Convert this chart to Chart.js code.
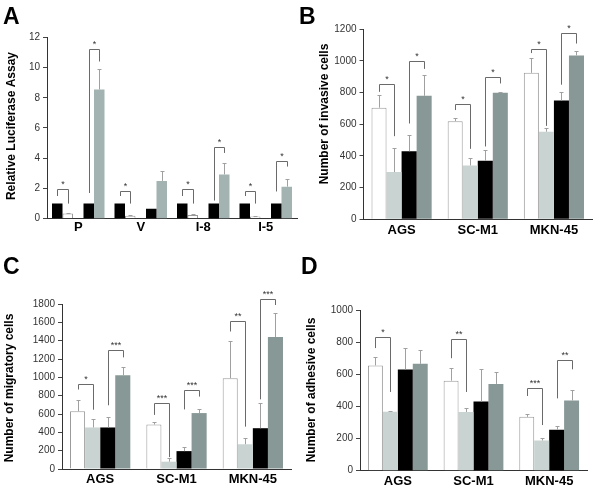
<!DOCTYPE html>
<html><head><meta charset="utf-8">
<script src="https://cdn.jsdelivr.net/npm/chart.js@4/dist/chart.umd.min.js"></script>
<style>
body{margin:0;background:#fff;}
#wrap{position:relative;width:600px;height:500px;overflow:hidden;background:#fff;}
canvas{position:absolute;}
.lab{position:absolute;font:bold 23px "Liberation Sans",Arial,sans-serif;color:#000;line-height:1;}
</style></head><body>
<div id="wrap">
<canvas id="cA" width="300" height="250" style="left:0;top:0"></canvas>
<canvas id="cB" width="300" height="250" style="left:300px;top:0"></canvas>
<canvas id="cC" width="300" height="250" style="left:0;top:250px"></canvas>
<canvas id="cD" width="300" height="250" style="left:300px;top:250px"></canvas>
<div class="lab" style="left:3px;top:5px">A</div>
<div class="lab" style="left:299px;top:5px">B</div>
<div class="lab" style="left:3px;top:255px">C</div>
<div class="lab" style="left:301px;top:255px">D</div>
</div>
<script>
// ---------- Panel A ----------
const catsA = ['P', 'V', 'I-8', 'I-5'];
const yTicksA = [0, 2, 4, 6, 8, 10, 12];
const aBlack1 = [1, 1, 1, 1];
const aWhite = [0.35, 0.2, 0.25, 0.15];
const aWhiteErr = [0.02, 0.07, 0.03, 0.05];
const aGap = [null, null, null, null];
const aBlack2 = [1, 0.65, 1, 1];
const aGray = [8.55, 2.5, 2.93, 2.12];
const aGrayErr = [1.35, 0.65, 0.73, 0.48];
// [category, fromBar, toBar, level, leftLegEnd, rightLegEnd, label]
const bracketsA = [
  [0, 0, 1, 1.94, 1.5, 1.0, '*'],
  [0, 3, 4, 11.2, 1.7, 10.4, '*'],
  [1, 0, 1, 1.85, 1.5, 1.0, '*'],
  [2, 0, 1, 1.94, 1.5, 1.0, '*'],
  [2, 3, 4, 4.72, 1.2, 4.35, '*'],
  [3, 0, 1, 1.85, 1.5, 1.0, '*'],
  [3, 3, 4, 3.8, 1.8, 3.45, '*']
];

// ---------- Cell lines (B, C, D) ----------
const cellLines = ['AGS', 'SC-M1', 'MKN-45'];

const yTicksB = [0, 200, 400, 600, 800, 1000, 1200];
const bWhite = [705, 620, 925];
const bWhiteErr = [78, 22, 95];
const bLight = [298, 340, 553];
const bLightErr = [150, 45, 22];
const bBlack = [430, 370, 750];
const bBlackErr = [101, 65, 55];
const bDark = [780, 800, 1035];
const bDarkErr = [130, 3, 25];
const bracketsB = [
  [0, 0, 1, 853, 805, 525, '*'],
  [0, 2, 3, 1000, 605, 950, '*'],
  [1, 0, 1, 730, 690, 445, '*'],
  [1, 2, 3, 900, 460, 858, '*'],
  [2, 0, 1, 1075, 1050, 590, '*'],
  [2, 2, 3, 1175, 850, 1110, '*']
];

const yTicksC = [0, 200, 400, 600, 800, 1000, 1200, 1400, 1600, 1800];
const cWhite = [630, 485, 990];
const cWhiteErr = [120, 25, 405];
const cLight = [453, 80, 270];
const cLightErr = [88, 35, 65];
const cBlack = [453, 195, 445];
const cBlackErr = [110, 50, 275];
const cDark = [1022, 610, 1440];
const cDarkErr = [90, 40, 260];
const bracketsC = [
  [0, 0, 1, 932, 867, 647, '*'],
  [0, 2, 3, 1298, 695, 1218, '***'],
  [1, 0, 1, 724, 590, 130, '***'],
  [1, 2, 3, 862, 650, 790, '***'],
  [2, 0, 1, 1615, 1500, 462, '**'],
  [2, 2, 3, 1855, 760, 1789, '***']
];

const yTicksD = [0, 200, 400, 600, 800, 1000];
const dWhite = [655, 560, 335];
const dWhiteErr = [55, 80, 20];
const dLight = [367, 365, 188];
const dLightErr = [3, 28, 17];
const dBlack = [630, 430, 255];
const dBlackErr = [135, 200, 25];
const dDark = [665, 540, 437];
const dDarkErr = [87, 75, 68];
const bracketsD = [
  [0, 0, 1, 834, 763, 490, '*'],
  [1, 0, 1, 817, 700, 490, '**'],
  [2, 0, 1, 512, 465, 284, '***'],
  [2, 2, 3, 689, 450, 631, '**']
];

const FONT = '"Liberation Sans", Arial, sans-serif';
Chart.defaults.font.family = FONT;
Chart.defaults.animation = false;

const annot = {
  id: 'annot',
  afterDatasetsDraw(chart, args, o) {
    const ctx = chart.ctx, ys = chart.scales.y;
    const yp = v => ys.getPixelForValue(v);
    ctx.save();
    ctx.lineWidth = 1;
    // error bars
    o.errors.forEach((errs, di) => {
      if (!errs) return;
      const meta = chart.getDatasetMeta(di);
      errs.forEach((e, i) => {
        const v = chart.data.datasets[di].data[i];
        if (v == null || !e) return;
        const x = Math.round(meta.data[i].x) + 0.5;
        const y0 = yp(v), y1 = Math.round(yp(v + e)) + 0.5;
        ctx.strokeStyle = '#a0a0a0';
        ctx.beginPath();
        ctx.moveTo(x, y0); ctx.lineTo(x, y1);
        ctx.moveTo(x - 2, y1); ctx.lineTo(x + 2, y1);
        ctx.stroke();
      });
    });
    // significance brackets
    ctx.font = '9px ' + FONT;
    ctx.fillStyle = '#333';
    ctx.textAlign = 'center';
    ctx.textBaseline = 'alphabetic';
    o.brackets.forEach(b => {
      const [ci, a, c, lvl, lb, rb, txt] = b;
      const xa = Math.round(chart.getDatasetMeta(a).data[ci].x) + 0.5;
      const xb = Math.round(chart.getDatasetMeta(c).data[ci].x) + 0.5;
      const yl = Math.round(yp(lvl)) + 0.5;
      ctx.strokeStyle = '#6a6a6a';
      ctx.beginPath();
      ctx.moveTo(xa, yp(lb)); ctx.lineTo(xa, yl); ctx.lineTo(xb, yl); ctx.lineTo(xb, yp(rb));
      ctx.stroke();
      ctx.fillText(txt, (xa + xb) / 2, yl - 3);
    });
    ctx.restore();
  },
  afterDraw(chart, args, o) {
    const ctx = chart.ctx;
    ctx.save();
    ctx.translate(o.titleX, o.titleY);
    ctx.rotate(-Math.PI / 2);
    ctx.font = 'bold 12px ' + FONT;
    ctx.fillStyle = '#000';
    ctx.textAlign = 'center';
    ctx.textBaseline = 'middle';
    ctx.fillText(o.title, 0, 0);
    ctx.restore();
  }
};

function makeChart(id, cats, sets, yTicks, errors, brackets, g) {
  const xH = 22;
  return new Chart(document.getElementById(id), {
    type: 'bar',
    data: {
      labels: cats,
      datasets: sets.map(s => ({
        data: s.data,
        backgroundColor: s.color,
        borderColor: s.border || s.color,
        borderWidth: s.border ? 1 : 0,
        categoryPercentage: g.catPct,
        barPercentage: 1
      }))
    },
    options: {
      responsive: false,
      devicePixelRatio: 1,
      animation: false,
      layout: { padding: { left: 0, right: 300 - g.right, top: g.top, bottom: 250 - g.bottom - xH } },
      plugins: {
        legend: { display: false },
        tooltip: { enabled: false },
        annot: { errors, brackets, title: g.title, titleX: g.titleX, titleY: g.titleY }
      },
      scales: {
        x: {
          grid: { display: false, drawTicks: false },
          border: { display: true, color: '#333', width: 1 },
          ticks: { color: '#000', font: { size: 13, weight: 'bold' }, padding: g.xPad, maxRotation: 0, autoSkip: false },
          afterFit: s => { s.height = xH; }
        },
        y: {
          min: yTicks[0],
          max: yTicks[yTicks.length - 1],
          afterBuildTicks: ax => { ax.ticks = yTicks.map(v => ({ value: v })); },
          grid: { display: true, drawOnChartArea: false, drawTicks: true, tickLength: 4, color: '#444' },
          border: { display: true, color: '#333', width: 1 },
          ticks: { color: '#333', font: { size: 10 }, padding: 3, callback: v => String(v) },
          afterFit: s => { s.width = g.left; }
        }
      }
    },
    plugins: [annot]
  });
}

const WHITE = '#ffffff', WBORDER = '#9a9a9a', LIGHT = '#c9d4d2', BLACK = '#000000', DARK = '#879896', AGRAY = '#a3b3b1';

makeChart('cA', catsA, [
  { data: aBlack1, color: BLACK },
  { data: aWhite, color: WHITE, border: WBORDER },
  { data: aGap, color: WHITE },
  { data: aBlack2, color: BLACK },
  { data: aGray, color: AGRAY }
], yTicksA, [null, aWhiteErr, null, null, aGrayErr], bracketsA,
  { left: 47, right: 297, top: 37.3, bottom: 218.7, xPad: 1, catPct: 0.84, title: 'Relative Luciferase Assay', titleX: 12, titleY: 126 });

makeChart('cB', cellLines, [
  { data: bWhite, color: WHITE, border: WBORDER },
  { data: bLight, color: LIGHT },
  { data: bBlack, color: BLACK },
  { data: bDark, color: DARK }
], yTicksB, [bWhiteErr, bLightErr, bBlackErr, bDarkErr], bracketsB,
  { left: 63.5, right: 292, top: 29.3, bottom: 219.3, xPad: 3, catPct: 0.79, title: 'Number of invasive cells', titleX: 25, titleY: 114 });

makeChart('cC', cellLines, [
  { data: cWhite, color: WHITE, border: WBORDER },
  { data: cLight, color: LIGHT },
  { data: cBlack, color: BLACK },
  { data: cDark, color: DARK }
], yTicksC, [cWhiteErr, cLightErr, cBlackErr, cDarkErr], bracketsC,
  { left: 62, right: 291, top: 54, bottom: 219, xPad: 3, catPct: 0.79, title: 'Number of migratory cells', titleX: 10, titleY: 138 });

makeChart('cD', cellLines, [
  { data: dWhite, color: WHITE, border: WBORDER },
  { data: dLight, color: LIGHT },
  { data: dBlack, color: BLACK },
  { data: dDark, color: DARK }
], yTicksD, [dWhiteErr, dLightErr, dBlackErr, dDarkErr], bracketsD,
  { left: 60, right: 287, top: 60, bottom: 220.7, xPad: 3, catPct: 0.79, title: 'Number of adhesive cells', titleX: 12, titleY: 140 });
</script>
</body></html>
